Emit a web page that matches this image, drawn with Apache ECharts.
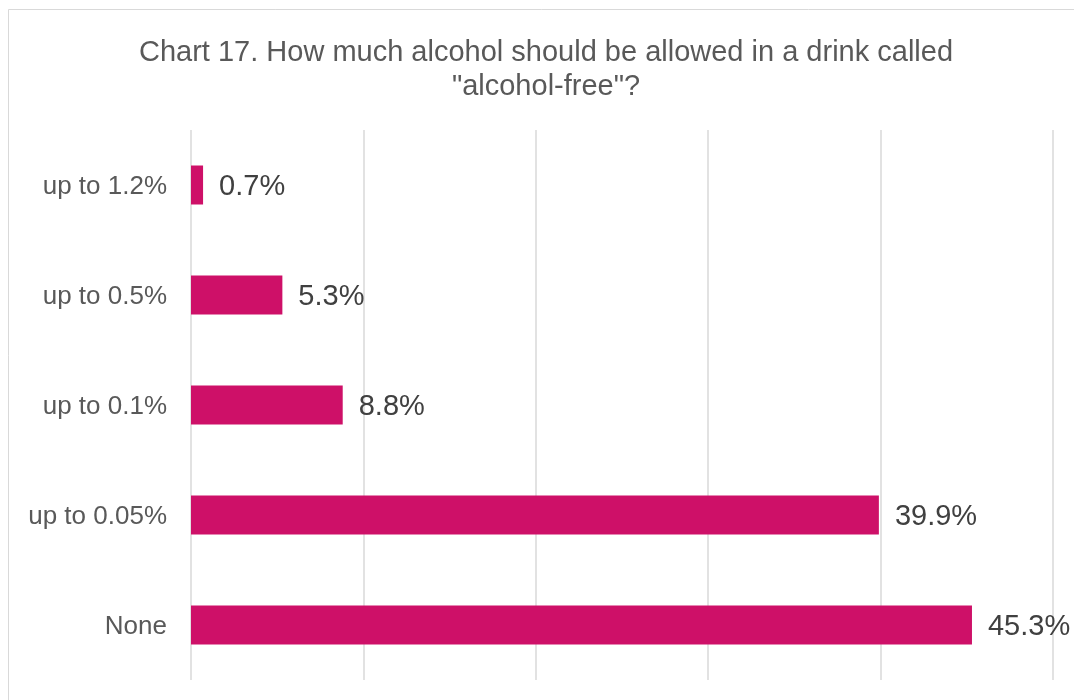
<!DOCTYPE html>
<html>
<head>
<meta charset="utf-8">
<title>Chart 17</title>
<script src="https://cdn.jsdelivr.net/npm/echarts@6/dist/echarts.min.js"></script>
<style>
  html, body { margin: 0; padding: 0; background: #ffffff; }
  #chart { width: 1074px; height: 700px; }
</style>
</head>
<body>
<div id="chart"></div>
<script>
// Answer options, listed top to bottom
const categories = ['up to 1.2%', 'up to 0.5%', 'up to 0.1%', 'up to 0.05%', 'None'];
// Share of respondents (%)
const shares = [0.7, 5.3, 8.8, 39.9, 45.3];
// Value axis range and grid spacing (%)
const axisMin = 0;
const axisMax = 50;
const axisStep = 10;

const FONT = '"Liberation Sans", Arial, sans-serif';

const chart = echarts.init(document.getElementById('chart'), null, { renderer: 'canvas' });

chart.setOption({
  backgroundColor: '#ffffff',
  animation: false,
  textStyle: { fontFamily: FONT },
  title: {
    text: 'Chart 17. How much alcohol should be allowed in a drink called\n"alcohol-free"?',
    left: 541,
    top: 31,
    textAlign: 'center',
    textStyle: {
      fontFamily: FONT,
      fontSize: 29,
      fontWeight: 'normal',
      color: '#595959',
      lineHeight: 34
    }
  },
  graphic: [{
    type: 'rect',
    silent: true,
    shape: { x: 8.5, y: 9.5, width: 1200, height: 900 },
    style: { fill: 'none', stroke: '#d9d9d9', lineWidth: 1 }
  }],
  grid: { left: 191, right: 21, top: 130, bottom: 20, containLabel: false },
  xAxis: {
    type: 'value',
    min: axisMin,
    max: axisMax,
    interval: axisStep,
    axisLine: { show: false },
    axisTick: { show: false },
    axisLabel: { show: false },
    splitLine: { show: true, lineStyle: { color: '#d9d9d9', width: 1.5 } }
  },
  yAxis: {
    type: 'category',
    data: categories,
    inverse: true,
    axisLine: { show: false },
    axisTick: { show: false },
    axisLabel: {
      margin: 24,
      fontFamily: FONT,
      fontSize: 26,
      color: '#595959',
      formatter: v => '{c|' + v + '}',
      rich: {
        c: {
          fontFamily: FONT,
          fontSize: 26,
          color: '#595959',
          padding: [4, 0, 0, 0]
        }
      }
    },
    splitLine: { show: false }
  },
  series: [{
    type: 'bar',
    data: shares,
    barWidth: 39,
    itemStyle: { color: '#CE1068' },
    label: {
      show: true,
      position: 'right',
      distance: 16,
      offset: [0, 2],
      fontFamily: FONT,
      fontSize: 29,
      color: '#404040',
      formatter: p => p.value.toFixed(1) + '%'
    }
  }]
});
</script>
</body>
</html>
